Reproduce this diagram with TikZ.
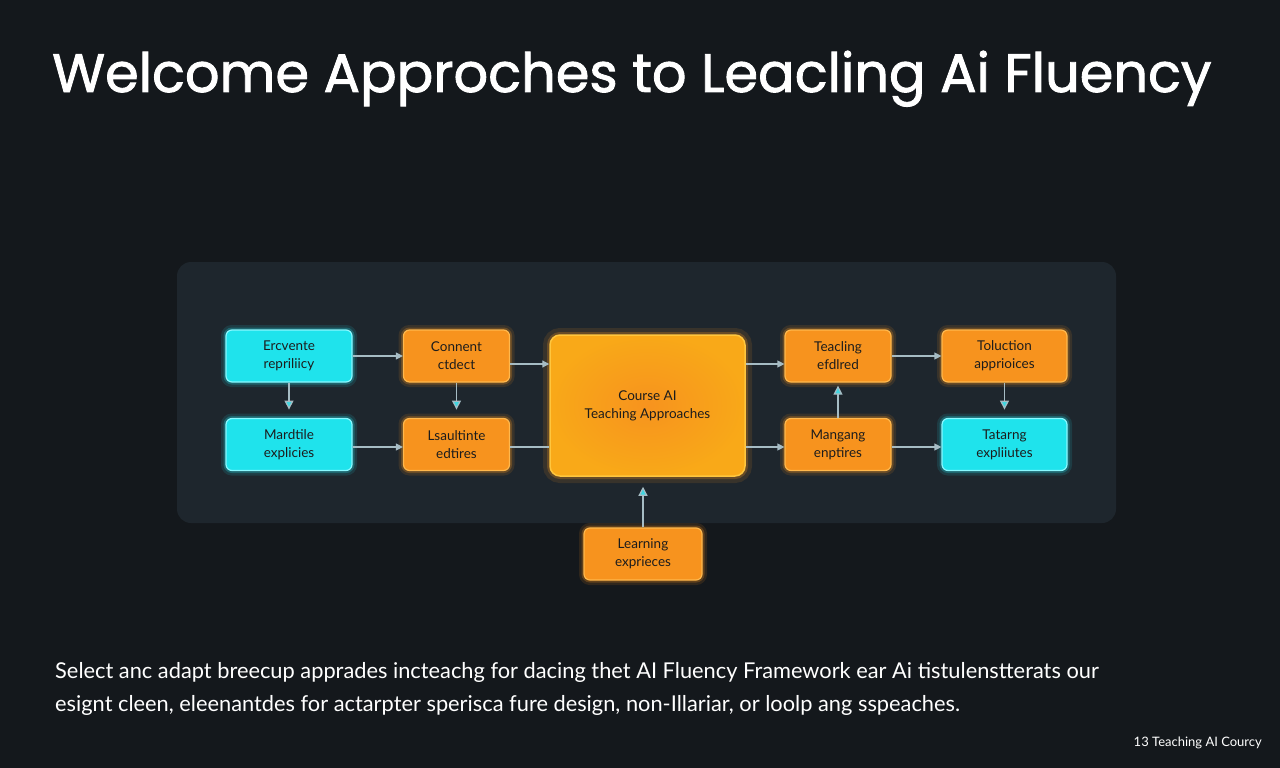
\documentclass[tikz,border=0pt]{standalone}
\usepackage{fontspec}
\setmainfont{Lato}
\newfontfamily\titlefont[FakeBold=1.6]{Poppins}
\usetikzlibrary{arrows.meta}
\definecolor{bg}{HTML}{14181C}
\definecolor{panel}{HTML}{1E262D}
\definecolor{cyanfill}{HTML}{1FE3EC}
\definecolor{cyanedge}{HTML}{8AF8FF}
\definecolor{orfill}{HTML}{F7931E}
\definecolor{oredge}{HTML}{FFB84D}
\definecolor{arrowc}{HTML}{A6BCC4}
\definecolor{tipc}{HTML}{3FD6E0}
\definecolor{boxtext}{HTML}{1C1C1C}
\tikzset{
  base/.style={rounded corners=6pt, line width=1.2pt, align=center, text=boxtext,
    font=\fontsize{13.5}{18}\selectfont, inner sep=0pt},
  cyanbox/.style={base, fill=cyanfill, draw=cyanedge,
    preaction={draw=cyanfill, line width=10pt, opacity=0.12},
    preaction={draw=cyanfill, line width=5pt, opacity=0.25},
    minimum width=126pt, minimum height=52pt},
  orbox/.style={base, fill=orfill, draw=oredge,
    preaction={draw=orfill, line width=10pt, opacity=0.12},
    preaction={draw=orfill, line width=5pt, opacity=0.25},
    minimum width=106pt, minimum height=52pt},
  conn/.style={draw=arrowc, line width=1.2pt, -{Triangle[length=7pt,width=7pt,fill=arrowc]}},
  vconn/.style={draw=arrowc, line width=1.2pt, -{Triangle[length=9pt,width=9pt,fill=tipc]}},
  plain/.style={draw=arrowc, line width=1.2pt}
}
\begin{document}
\begin{tikzpicture}[x=1pt,y=-1pt]
\fill[bg] (0,0) rectangle (1280,768);
\useasboundingbox (0,0) rectangle (1280,768);
\fill[panel, rounded corners=14pt] (177,262) rectangle (1116,523);

\node[anchor=base west, text=white, font=\titlefont\fontsize{54.2}{60}\selectfont, inner sep=0pt] (title) at (52,92) {Welcome Approches to Leacling Ai Fluency};

% boxes
\node[cyanbox] (erc) at (289,356) {Ercvente\\repriliicy};
\node[cyanbox] (mar) at (289,444.5) {Mardtile\\explicies};
\node[orbox] (con) at (456.5,356) {Connent\\ctdect};
\node[orbox] (lsa) at (456.5,444.5) {Lsaultinte\\edtires};
\node[base, minimum width=195pt, minimum height=141pt, rounded corners=10pt,
  draw=oredge!80!yellow, line width=1.5pt,
  preaction={draw=orfill, line width=14pt, opacity=0.12},
  preaction={draw=orfill, line width=6pt, opacity=0.25},
  inner color=orfill, outer color=orfill!80!yellow] (course) at (647.5,405.5) {Course AI\\Teaching Approaches};
\node[orbox] (tea) at (838,356) {Teacling\\efdlred};
\node[orbox] (man) at (838,444.5) {Mangang\\enptires};
\node[orbox, minimum width=125pt] (tol) at (1004.5,356) {Toluction\\apprioices};
\node[cyanbox, minimum width=125pt] (tat) at (1004.5,444.5) {Tatarng\\expliiutes};
\node[orbox, minimum width=118pt] (lea) at (643,554) {Learning\\exprieces};

% connectors
\draw[conn] (erc.east) -- (con.west);
\draw[conn] (con.east |- 0,364) -- (course.west |- 0,364);
\draw[conn] (mar.east |- 0,447) -- (lsa.west |- 0,447);
\draw[plain] (lsa.east |- 0,447) -- (course.west |- 0,447);
\draw[conn] (course.east |- 0,364) -- (tea.west |- 0,364);
\draw[conn] (course.east |- 0,447) -- (man.west |- 0,447);
\draw[conn] (tea.east) -- (tol.west);
\draw[conn] (man.east |- 0,447) -- (tat.west |- 0,447);
\draw[vconn] (erc.south) -- ++(0,27);
\draw[vconn] (con.south) -- ++(0,27);
\draw[vconn] (tol.south) -- ++(0,27);
\draw[vconn] (man.north) -- ([yshift=-3pt]tea.south);
\draw[vconn] (lea.north) -- ([yshift=-10pt]lea.north |- course.south);

% text
\node[anchor=base west, text=white, font=\fontsize{21.8}{26}\selectfont, inner sep=0pt] (t1) at (55,678) {Select anc adapt breecup apprades incteachg for dacing thet AI Fluency Framework ear Ai tistulenstterats our};
\node[anchor=base west, text=white, font=\fontsize{21.8}{26}\selectfont, inner sep=0pt] (t2) at (55,711) {esignt cleen, eleenantdes for actarpter sperisca fure design, non-Illariar, or loolp ang sspeaches.};
\node[anchor=base east, text=white, font=\fontsize{13}{16}\selectfont, inner sep=0pt] (foot) at (1262,746) {13 Teaching AI Courcy};
\end{tikzpicture}
\end{document}
